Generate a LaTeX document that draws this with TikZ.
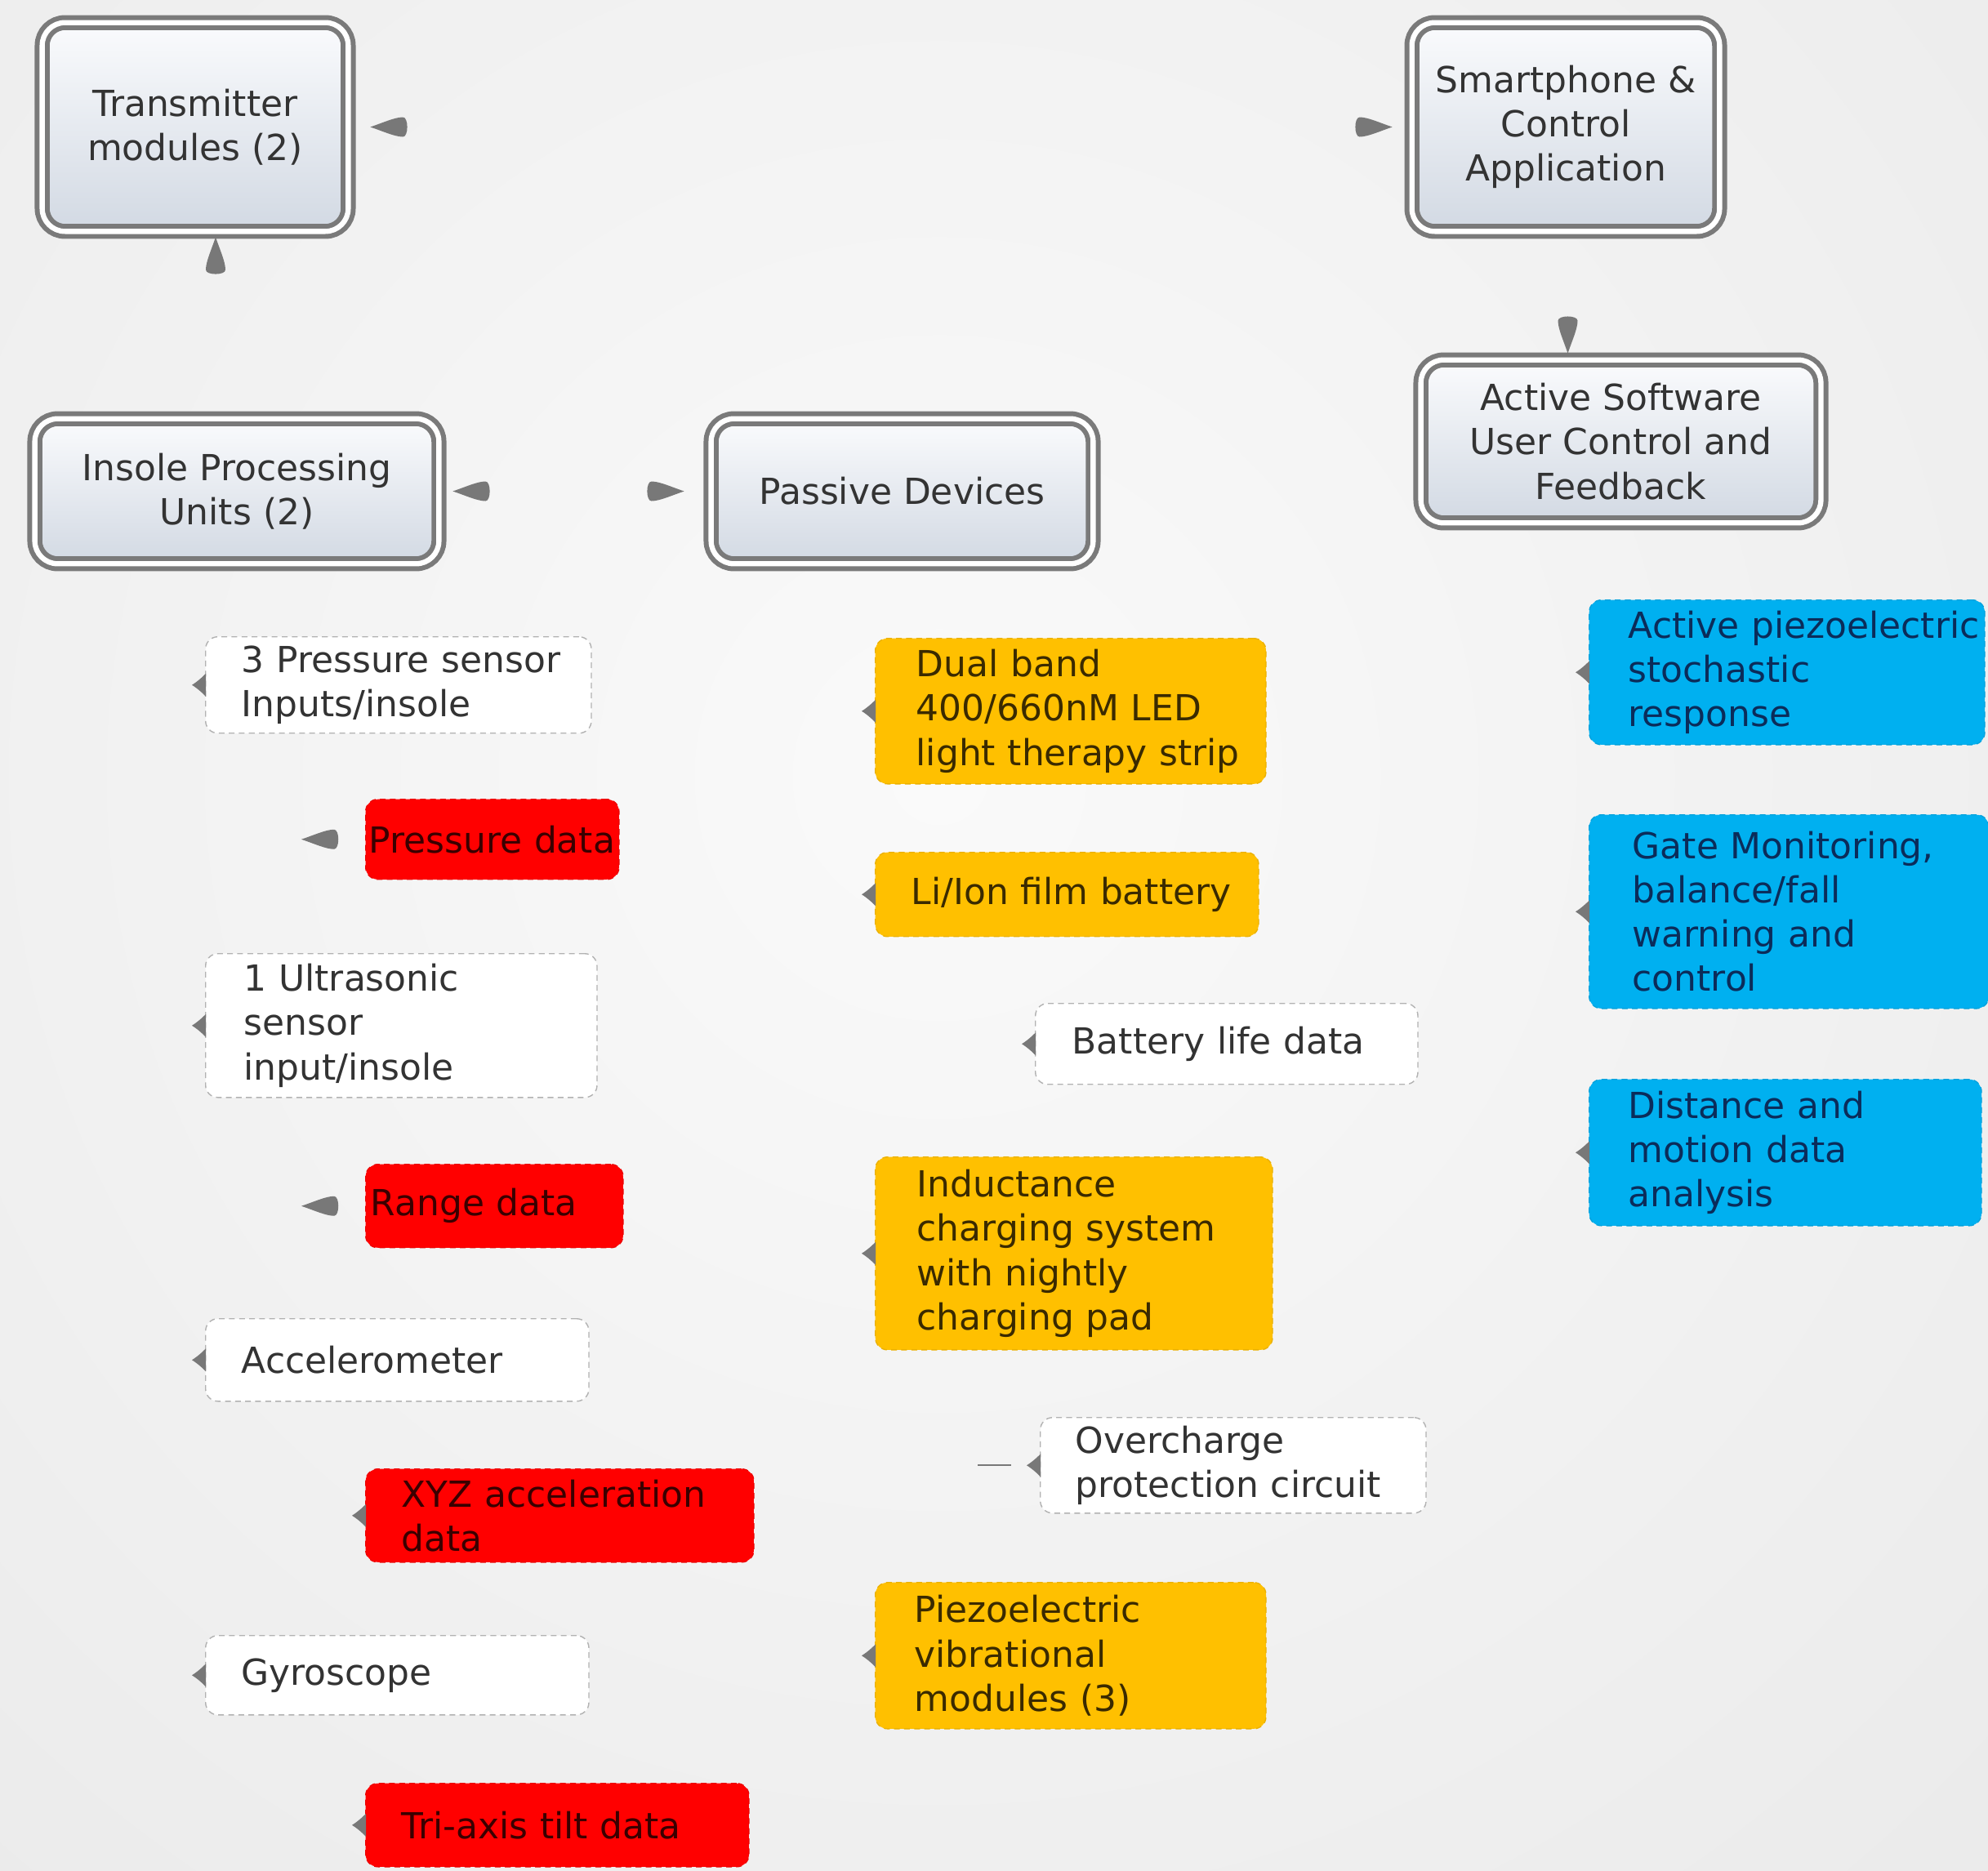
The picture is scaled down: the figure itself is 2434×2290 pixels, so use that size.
\documentclass[tikz,border=0pt]{standalone}
\usepackage{fontspec}
\setmainfont{DejaVu Sans}
\usetikzlibrary{calc}
\definecolor{bgout}{HTML}{E1E1E1}
\definecolor{bgin}{HTML}{FAFAFA}
\definecolor{tipgray}{HTML}{787878}
\definecolor{frame}{HTML}{7A7A7A}
\definecolor{topA}{HTML}{FAFBFD}
\definecolor{topB}{HTML}{D2D9E3}
\definecolor{txt}{HTML}{333333}
\definecolor{redf}{HTML}{FF0000}
\definecolor{redt}{HTML}{3A0000}
\definecolor{orf}{HTML}{FFC000}
\definecolor{ort}{HTML}{3A2A00}
\definecolor{blf}{HTML}{00B0F0}
\definecolor{blt}{HTML}{0B2C5A}
\begin{document}
\begin{tikzpicture}[x=0.01cm,y=-0.01cm,
  font=\fontsize{12.5pt}{15.4pt}\selectfont,
  topbox/.style={draw=frame, double=white, double distance=1.8pt, line width=1.7pt,
    rounded corners=0.28cm, top color=topA, bottom color=topB, align=center,
    text=txt, inner sep=0pt},
  leaf/.style n args={3}{anchor=north west, inner xsep=0.04cm, inner ysep=0pt,
    text width=#1, minimum height=#2, align=left,
    execute at begin node={\leftskip=#3\relax}, rounded corners=0.15cm,
    line width=0.4pt, dash pattern=on 2pt off 1.5pt},
  wbox/.style={fill=white, draw=gray!60, text=txt},
  rbox/.style={fill=redf, draw=redf!93!black, text=redt},
  obox/.style={fill=orf, draw=orf!92!black, text=ort},
  bbox/.style={fill=blf, draw=blf!92!black, text=blt},
  bigtip/.pic={\fill[tipgray] (0,0) .. controls (15,-5) and (30,-12) .. (40,-12)
     .. controls (47,-12) and (47,12) .. (40,12) .. controls (30,12) and (15,5) .. (0,0) -- cycle;},
  smalltip/.pic={\fill[tipgray] (0,0) .. controls (8,-5) and (14,-11) .. (17,-14) -- (17,14) .. controls (14,11) and (8,5) .. (0,0) -- cycle;}
]
\useasboundingbox (0,0) rectangle (2434,2290);
\begin{scope}
  \clip (0,0) rectangle (2434,2290);
  \shade[inner color=bgin, outer color=bgout] (1150,950) circle (3000);
\end{scope}

% main boxes
\node[topbox, minimum width=3.745cm, minimum height=2.555cm] (trans) at (239,155.5) {Transmitter\\modules (2)};
\node[topbox, minimum width=3.765cm, minimum height=2.555cm] (smart) at (1917,155.5) {Smartphone \&\\Control\\Application};
\node[topbox, minimum width=4.945cm, minimum height=1.775cm] (insole) at (290,601.5) {Insole Processing\\Units (2)};
\node[topbox, minimum width=4.675cm, minimum height=1.775cm] (passive) at (1104.5,601.5) {Passive Devices};
\node[topbox, minimum width=4.895cm, minimum height=1.995cm] (actsw) at (1984.5,540.5) {Active Software\\User Control and\\Feedback};

% left column
\node[leaf={4.64cm}{1.18cm}{0.40cm}, wbox] (pres3) at (251,779) {3 Pressure sensor\\Inputs/insole};
\node[leaf={3.02cm}{0.98cm}{0cm}, rbox] (presd) at (447,978) {\mbox{Pressure data}};
\node[leaf={4.71cm}{1.76cm}{0.43cm}, wbox] (ultra) at (251,1167) {1 Ultrasonic\\sensor\\input/insole};
\node[leaf={3.07cm}{1.02cm}{0.02cm}, rbox] (range) at (447,1425) {\mbox{Range data}};
\node[leaf={4.61cm}{1.01cm}{0.40cm}, wbox] (accel) at (251,1614) {Accelerometer};
\node[leaf={4.67cm}{1.14cm}{0.40cm}, rbox] (xyz) at (447,1798) {XYZ acceleration\\data};
\node[leaf={4.61cm}{0.97cm}{0.40cm}, wbox] (gyro) at (251,2002) {Gyroscope};
\node[leaf={4.61cm}{1.02cm}{0.40cm}, rbox] (tilt) at (447,2183) {Tri-axis tilt data};

% middle column
\node[leaf={4.70cm}{1.78cm}{0.46cm}, obox] (dual) at (1071,781) {Dual band\\400/660nM LED\\light therapy strip};
\node[leaf={4.61cm}{1.03cm}{0.40cm}, obox] (liion) at (1071,1043) {Li/Ion film battery};
\node[leaf={4.60cm}{0.99cm}{0.41cm}, wbox] (batt) at (1267,1228) {Battery life data};
\node[leaf={4.78cm}{2.36cm}{0.47cm}, obox] (induct) at (1071,1416) {Inductance\\charging system\\with nightly\\charging pad};
\node[leaf={4.64cm}{1.17cm}{0.39cm}, wbox] (overc) at (1273,1735) {Overcharge\\protection circuit};
\node[leaf={4.70cm}{1.79cm}{0.44cm}, obox] (piezo) at (1071,1937) {Piezoelectric\\vibrational\\modules (3)};

% right column
\node[leaf={4.76cm}{1.77cm}{0.44cm}, bbox] (actpz) at (1945,734) {Active piezoelectric\\stochastic\\response};
\node[leaf={4.81cm}{2.37cm}{0.49cm}, bbox] (gate) at (1945,997) {Gate Monitoring,\\balance/fall\\warning and\\control};
\node[leaf={4.72cm}{1.79cm}{0.44cm}, bbox] (dist) at (1945,1321) {Distance and\\motion data\\analysis};

% arrow tips (connector lines are not shown)
\pic at ($(trans.east)+(24,0)$) {bigtip};
\pic[rotate=-90] at ($(trans.south)+(25,4)$) {bigtip};
\pic[rotate=180] at ($(smart.west)+(-21,0)$) {bigtip};
\pic[rotate=90] at ($(actsw.north)+(-65,-5)$) {bigtip};
\pic at ($(insole.east)+(14,0)$) {bigtip};
\pic[rotate=180] at ($(passive.west)+(-30,0)$) {bigtip};
\pic at ($(presd.west)+(-78,0)$) {bigtip};
\pic at ($(range.west)+(-78,0)$) {bigtip};

\foreach \n in {pres3,ultra,accel,gyro,xyz,tilt,dual,liion,batt,induct,overc,piezo,actpz,gate,dist}
  \pic at ($(\n.west)+(-16,0)$) {smalltip};

\coordinate (ocl) at ($(overc.west)+(-76,0)$);
\draw[tipgray, line width=0.5pt] (ocl) -- ($(overc.west)+(-35,0)$);
\end{tikzpicture}
\end{document}
